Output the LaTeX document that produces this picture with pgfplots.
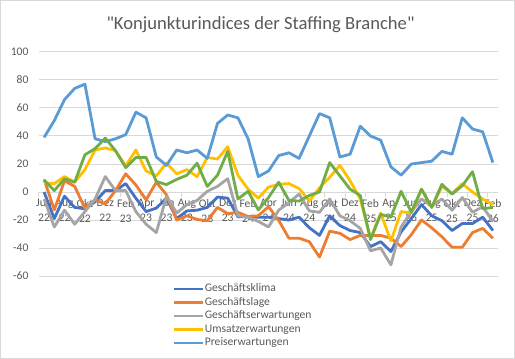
\documentclass[border=0pt]{standalone}
\usepackage{fontspec}
\setmainfont{Carlito}
\newfontfamily\titlefont{Carlito}[Ligatures=TeXOff]
\usepackage{pgfplots}
\usepackage{pgfplotstable}
\pgfplotsset{compat=1.18}
\definecolor{cK}{HTML}{4472C4}
\definecolor{cL}{HTML}{ED7D31}
\definecolor{cE}{HTML}{A5A5A5}
\definecolor{cU}{HTML}{FFC000}
\definecolor{cP}{HTML}{5B9BD5}
\definecolor{cG}{HTML}{70AD47}
\definecolor{gridc}{HTML}{D9D9D9}
\definecolor{txt}{HTML}{595959}
\pgfplotstableread{
i K L E U P G
0 0 9 -5 6.5 39 8.5
1 -19 -12.8 -25 6 51 1
2 -3 8 -13 11 66 9.4
3 -11 4 -23 7 74 7
4 -12 -11.6 -14 16 77 26.6
5 -7 -5.6 -5 30 38 31
6 1 -8.5 11 31.5 36 38.5
7 1 1 1 29.5 38 29.5
8 6 13 1 18.6 41 17.4
9 -4.5 5 -14 30 57 24.7
10 -14 -5.6 -23 15 53 24.7
11 -11.5 7 -29 11.5 25 7.5
12 -4.4 -2 -3 20.6 19 5.3
13 -19 -20 -15 13 30 9
14 -13.5 -17 -9 16 28 12
15 -13 -19.6 -6 11 30 20.6
16 -11 -20.5 0.5 24.7 24 4
17 -3.6 -11 4 23.5 49 12
18 -4.4 -15.5 9.5 32.4 55 29
19 -17.7 -14.5 -17 12 53 -5
20 -17.7 -17.5 -18 2 38 0.5
21 -18 -17 -21 -4.4 11 -12.8
22 -18 -10.5 -25 3.5 15 -4
23 -19 -20.3 -13 5.5 26 7
24 -20 -33 -7.5 6 28 -6
25 -18 -33 -1.5 2.5 24 -6.5
26 -25.5 -35.5 -13.5 -6.5 40 -2.5
27 -31 -46.5 -14.5 3 56 0
28 -17 -28 -5 10.5 53 21
29 -24 -29.5 -17 19 25 11.5
30 -27.5 -34 -20.5 8 27 2
31 -29 -31 -26 -5 47 -2.5
32 -39 -31 -42 -33 40 -34
33 -35.5 -31 -40 -15 37 -16
34 -42.5 -33 -52 -35 18 -18
35 -28.5 -39 -25 -14 12 0.5
36 -19 -30.5 -14 -15 20 -14.5
37 -9 -20 -5 2 21 2
38 -17 -25.6 -10 -11 22 -11
39 -20.5 -32 -5 4 29 5.5
40 -27.5 -39.5 -13 -1 27 -1.5
41 -22.5 -39.5 -4 6 53 4.5
42 -22.5 -29 -14.5 0 45 14.5
43 -18 -26 -10.5 -5 43 -12
44 -27.5 -33 -21 -9 21 -11
}\data
\begin{document}
\begin{tikzpicture}
\begin{axis}[
  name=ax,
  scale only axis,
  width=459bp, height=224bp,
  xmin=-0.5, xmax=44.5,
  ymin=-60, ymax=100,
  ytick={-60,-40,...,100},
  xtick={0,2,...,44},
  xticklabels={{Jun\\22},{Aug\\22},{Okt\\22},{Dez\\22},{Feb\\23},{Apr\\23},{Jun\\23},{Aug\\23},{Okt\\23},{Dez\\23},{Feb\\24},{Apr\\24},{Jun\\24},{Aug\\24},{Okt\\24},{Dez\\24},{Feb\\25},{Apr\\25},{Jun\\25},{Aug\\25},{Okt\\25},{Dez\\25},{Feb\\26}},
  extra x ticks={-0.5,1.5,...,44.5},
  extra x tick labels={},
  extra x tick style={major tick length=5bp, tick align=outside, tick style={draw=gridc, line width=1bp, yshift=84bp}},
  major tick length=0pt,
  tick pos=left,
  axis line style={draw=none},
  ymajorgrids,
  grid style={draw=gridc, line width=1bp},
  /pgf/number format/assume math mode=true,
  tick label style={text=txt, font=\fontsize{11.6bp}{15bp}\selectfont},
  xticklabel style={align=center, yshift=78bp, inner sep=1bp},
  yticklabel style={xshift=-7bp},
  clip=false,
  legend cell align=left,
  legend style={at={(0.292,-0.031)}, anchor=north west, draw=none, fill=none,
    inner sep=0pt, outer sep=0pt, row sep=1.5bp, column sep=0pt,
    font=\fontsize{11.6bp}{14bp}\selectfont, text=txt,
    nodes={inner sep=0.6bp, text height=8.2bp, text depth=2.6bp}},
  legend image code/.code={\draw[#1, line width=2.8bp] (0bp,0bp) -- (28.4bp,0bp);},
  every axis plot/.append style={line width=2.8bp, line join=round, mark=none},
]
\addplot[cK] table[x=i, y=K] {\data}; \addlegendentry{Geschäftsklima}
\addplot[cL] table[x=i, y=L] {\data}; \addlegendentry{Geschäftslage}
\addplot[cE] table[x=i, y=E] {\data}; \addlegendentry{Geschäftserwartungen}
\addplot[cU] table[x=i, y=U] {\data}; \addlegendentry{Umsatzerwartungen}
\addplot[cP] table[x=i, y=P] {\data}; \addlegendentry{Preiserwartungen}
\addplot[cG, forget plot] table[x=i, y=G] {\data};
\end{axis}
\draw[gridc, line width=1bp] ([shift={(-38.5bp,-82.5bp)}]ax.south west) rectangle ++(514bp,358bp);
\node[text=txt, font=\titlefont\fontsize{18.6bp}{22bp}\selectfont, inner sep=0pt] at ([shift={(221.5bp,251bp)}]ax.south west) {"Konjunkturindices der Staffing Branche"};
\end{tikzpicture}
\end{document}
